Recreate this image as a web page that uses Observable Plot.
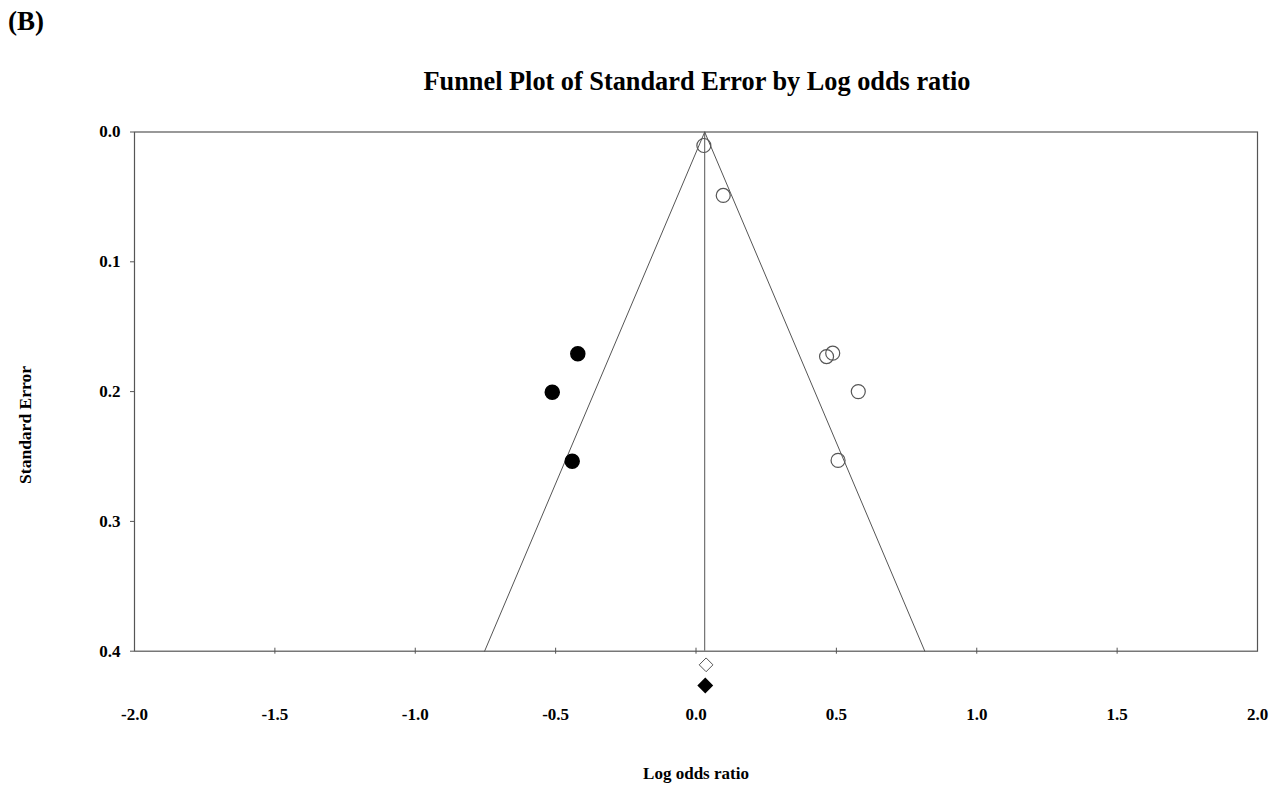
<!DOCTYPE html>
<html>
<head>
<meta charset="utf-8">
<script src="https://cdn.jsdelivr.net/npm/d3@7"></script>
<script src="https://cdn.jsdelivr.net/npm/@observablehq/plot@0.6"></script>
<style>
  html, body { margin: 0; padding: 0; background: #fff; }
  #wrap { position: relative; width: 1274px; height: 787px; font-family: "Liberation Serif", "Times New Roman", serif; font-weight: bold; color: #000; }
  #tag { position: absolute; left: 8px; top: 5px; font-size: 27px; line-height: 1.2; }
  #title { position: absolute; left: 0; width: 1394px; top: 66px; text-align: center; font-size: 26.3px; line-height: 1.2; }
  #xlabel { position: absolute; left: 0; width: 1392px; top: 764px; text-align: center; font-size: 17px; line-height: 1.2; }
  #ylabel { position: absolute; left: 25px; top: 425px; font-size: 17.5px; transform: translate(-50%, -50%) rotate(-90deg); white-space: nowrap; }
  #wrap svg { position: absolute; left: 0; top: 0; }
</style>
</head>
<body>
<div id="wrap">
  <div id="chart"></div>
  <div id="tag">(B)</div>
  <div id="title">Funnel Plot of Standard Error by Log odds ratio</div>
  <div id="ylabel">Standard Error</div>
  <div id="xlabel">Log odds ratio</div>
</div>
<script>
// Observed studies (open circles)
const observedLogOR = [0.028, 0.097, 0.465, 0.487, 0.578, 0.506];
const observedSE    = [0.0104, 0.0489, 0.173, 0.1704, 0.200, 0.253];
// Imputed studies (filled circles)
const imputedLogOR = [-0.421, -0.512, -0.441];
const imputedSE    = [0.1709, 0.2005, 0.2536];
// Summary estimates (diamonds): observed and adjusted
const summaryObserved = {x: 0.036, y: 0.4105};
const summaryAdjusted = {x: 0.033, y: 0.4264};
// Funnel
const pooledMean = 0.031;
const zCrit = 1.96;
const seMax = 0.4;
// Tick labels
const xTicks = [-2.0, -1.5, -1.0, -0.5, 0.0, 0.5, 1.0, 1.5, 2.0];
const yTicks = [0.0, 0.1, 0.2, 0.3, 0.4];

const observed = observedLogOR.map((x, i) => ({x, y: observedSE[i]}));
const imputed = imputedLogOR.map((x, i) => ({x, y: imputedSE[i]}));
const funnel = [
  {x: pooledMean - zCrit * seMax, y: seMax},
  {x: pooledMean, y: 0},
  {x: pooledMean + zCrit * seMax, y: seMax}
];

const font = "Liberation Serif, Times New Roman, serif";
const lineColor = "#555";

const chart = Plot.plot({
  width: 1274,
  height: 787,
  marginLeft: 134,
  marginRight: 17,
  marginTop: 131.5,
  marginBottom: 136.3,
  style: {fontFamily: font, background: "transparent"},
  x: {domain: [-2, 2], axis: null},
  y: {domain: [0, 0.4], reverse: true, axis: null},
  marks: [
    Plot.frame({stroke: lineColor, strokeWidth: 1.2}),
    Plot.axisY(yTicks, {tickSize: 4, tickPadding: 10, tickFormat: d => d.toFixed(1), fontSize: 17, fontWeight: "bold", fill: "#000", stroke: lineColor, label: null}),
    Plot.ruleX(xTicks.slice(1, -1), {x: d => d, y1: 0.4, y2: 0.4, insetTop: -3, insetBottom: -3, stroke: lineColor}),
    Plot.text(xTicks, {x: d => d, y: 0.4, dy: 63, text: d => d.toFixed(1), fontSize: 17, fontWeight: "bold", fill: "#000", lineAnchor: "middle"}),
    Plot.ruleX([pooledMean], {y1: 0, y2: 0.4, stroke: lineColor}),
    Plot.line(funnel, {x: "x", y: "y", stroke: lineColor, strokeWidth: 1}),
    Plot.dot(observed, {x: "x", y: "y", r: 7, stroke: lineColor, fill: "none", strokeWidth: 1.2}),
    Plot.dot(imputed, {x: "x", y: "y", r: 7, fill: "#000", stroke: "#000"}),
    Plot.dot([summaryObserved], {x: "x", y: "y", symbol: "diamond2", r: 6.2, stroke: lineColor, fill: "white", strokeWidth: 1}),
    Plot.dot([summaryAdjusted], {x: "x", y: "y", symbol: "diamond2", r: 6.2, fill: "#000", stroke: "#000"})
  ]
});
document.getElementById("chart").appendChild(chart);
</script>
</body>
</html>
